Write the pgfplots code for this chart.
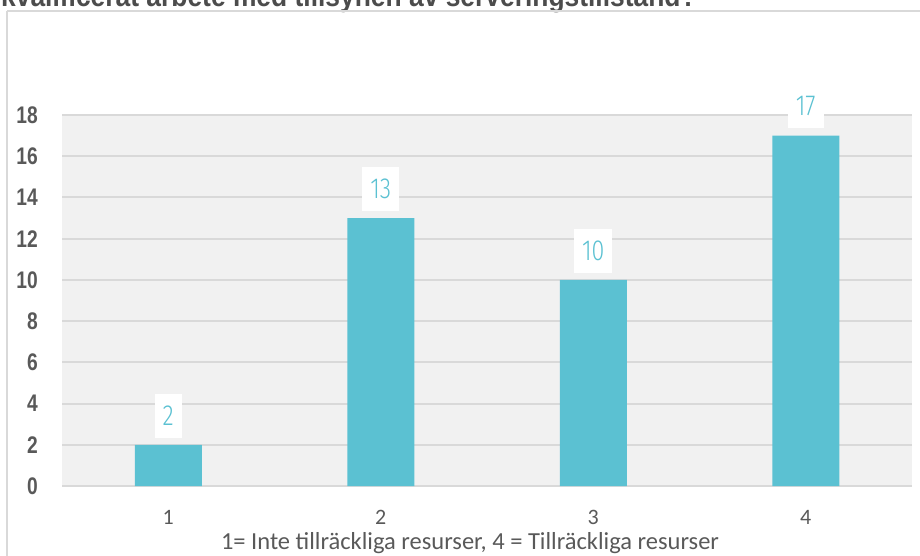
\documentclass[border=0pt]{standalone}
\usepackage{pgfplots}
\pgfplotsset{compat=1.18}
\usepackage{fontspec}
\setmainfont{Carlito}
\newfontfamily\tickfont{Liberation Sans}[FakeStretch=0.8]
\newfontfamily\titlefont{Liberation Sans}[FakeStretch=0.88]
\newfontfamily\labfont{Fira Sans Light}[FakeStretch=0.8]
\definecolor{barc}{RGB}{91,193,210}
\definecolor{gridc}{RGB}{217,217,217}
\definecolor{bgc}{RGB}{241,241,241}
\definecolor{txt}{RGB}{89,89,89}
\begin{document}
\begin{tikzpicture}[x=1pt,y=1pt]
\path[use as bounding box] (0,0) rectangle (920,-556);
\begin{scope}
\clip (0,0) rectangle (920,-556);
\node[anchor=base west, inner sep=0, font=\titlefont\bfseries\fontsize{30}{30}\selectfont, text=txt!85!black] at (1,-6.5) {kvalificerat arbete med tillsynen av serveringstillstånd?};
\draw[gridc, line width=1.5] (7,-11) -- (925,-11);
\draw[gridc, line width=1.5] (7,-11) -- (7,-560);
\end{scope}
\begin{axis}[
  at={(62pt,-486pt)}, anchor=south west,
  width=850pt, height=371pt, scale only axis,
  xmin=0.5, xmax=4.5, ymin=0, ymax=18,
  ytick={0,2,...,18}, xtick={1,2,3,4},
  /pgf/number format/assume math mode=true,
  axis background/.style={fill=bgc},
  axis line style={draw=none},
  ymajorgrids, grid style={gridc, line width=2pt},
  major tick length=0pt,
  ybar, bar width=67pt,
  yticklabel style={font=\tickfont\bfseries\fontsize{24}{24}\selectfont, text=txt, inner sep=0pt, anchor=east, xshift=-24pt},
  xticklabel style={font=\fontsize{22}{22}\selectfont, text=txt, inner sep=0pt, anchor=center, yshift=-31pt},
  nodes near coords,
  nodes near coords style={font=\labfont\fontsize{29}{29}\selectfont, text=barc, fill=white, anchor=south, inner xsep=8pt, minimum height=44pt, yshift=7pt},
]
\addplot[fill=barc, draw=none] coordinates {(1,2) (2,13) (3,10) (4,17)};
\end{axis}
\node[font=\fontsize{24.5}{24.5}\selectfont, text=txt, anchor=center] at (470,-543) {1= Inte tillräckliga resurser, 4 = Tillräckliga resurser};
\end{tikzpicture}
\end{document}
